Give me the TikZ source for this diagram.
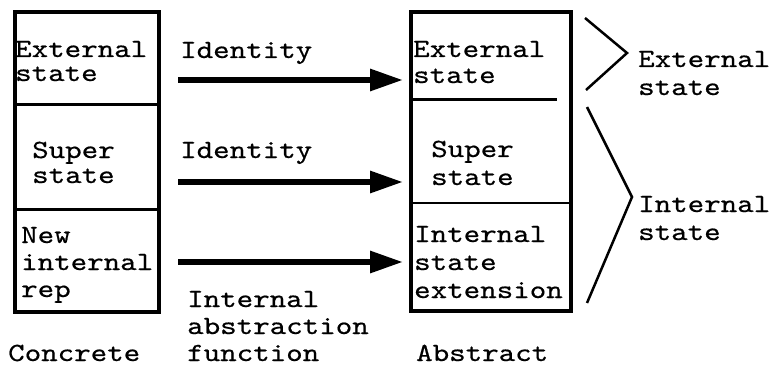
\documentclass[tikz,border=0pt]{standalone}
\usepackage{fontspec}
\newfontfamily\courlike[FakeStretch=1.2,FakeBold=0.5]{lmmono10-regular.otf}
\usetikzlibrary{arrows.meta}
\begin{document}
\begin{tikzpicture}[x=1pt,y=-1pt,
  txt/.style={anchor=base west,inner sep=0pt,font=\courlike\fontsize{26.2}{28}\selectfont},
  outer/.style={line width=4.5pt},
  divider/.style={line width=3pt},
  thindiv/.style={line width=2pt},
  arr/.style={line width=6pt,-{Triangle[length=33pt,width=21pt]}},
  brace/.style={line width=2.5pt,line join=miter}]
\useasboundingbox (0,0) rectangle (775,366);
% concrete box
\draw[outer] (15,12) rectangle (159,312);
\draw[divider] (15,105) -- (159,105);
\draw[divider] (15,209) -- (159,209);
% abstract box
\draw[outer] (411,12) rectangle (571,311);
\draw[divider] (413,100) -- (557,100);
\draw[thindiv] (411,203) -- (571,203);
% texts in concrete box
\node[txt] (ce1) at (15,57) {External};
\node[txt] (ce2) at (15,81) {state};
\node[txt] (cs1) at (32,158) {Super};
\node[txt] (cs2) at (32,183) {state};
\node[txt] (cn1) at (21,243) {New};
\node[txt] (cn2) at (21,270) {internal};
\node[txt] (cn3) at (21,297) {rep};
% texts in abstract box
\node[txt] (ae1) at (413,57) {External};
\node[txt] (ae2) at (413,83) {state};
\node[txt] (as1) at (431,157) {Super};
\node[txt] (as2) at (431,185) {state};
\node[txt] (ai1) at (414,242) {Internal};
\node[txt] (ai2) at (414,270) {state};
\node[txt] (ai3) at (414,298) {extension};
% arrow labels
\node[txt] (id1) at (180,58) {Identity};
\node[txt] (id2) at (180,158) {Identity};
\node[txt] (ia1) at (187,307) {Internal};
\node[txt] (ia2) at (187,334) {abstraction};
\node[txt] (ia3) at (187,361) {function};
% captions
\node[txt] (conc) at (8,361) {Concrete};
\node[txt] (abst) at (416,361) {Abstract};
% right labels
\node[txt] (re1) at (638,67) {External};
\node[txt] (re2) at (638,95) {state};
\node[txt] (ri1) at (638,212) {Internal};
\node[txt] (ri2) at (638,240) {state};
% arrows
\coordinate (a1s) at (178,80);  \coordinate (a1e) at (403,80);
\coordinate (a2s) at (178,182); \coordinate (a2e) at (403,182);
\coordinate (a3s) at (178,262); \coordinate (a3e) at (403,262);
\draw[arr] (a1s) -- (a1e);
\draw[arr] (a2s) -- (a2e);
\draw[arr] (a3s) -- (a3e);
% brackets
\coordinate (b1a) at (585,18);  \coordinate (b1t) at (627,53);  \coordinate (b1b) at (586,90);
\coordinate (b2a) at (587,107); \coordinate (b2t) at (632,197); \coordinate (b2b) at (587,303);
\draw[brace] (b1a) -- (b1t) -- (b1b);
\draw[brace] (b2a) -- (b2t) -- (b2b);
\end{tikzpicture}
\end{document}
